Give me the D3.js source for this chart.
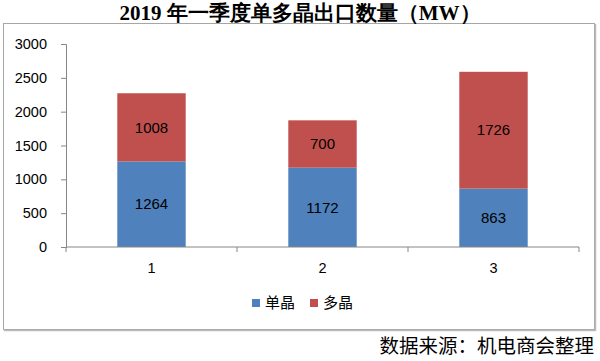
<!DOCTYPE html>
<html><head><meta charset="utf-8">
<script src="https://cdn.jsdelivr.net/npm/d3@7"></script>
<style>body{margin:0;background:#fff}svg{display:block}</style>
</head><body>
<script>
const categories = ["1","2","3"];
const mono = [1264,1172,863];
const multi = [1008,700,1726];
const seriesNames = ["单晶","多晶"];
const colors = ["#4F81BD","#C0504D"];
const yTicks = [0,500,1000,1500,2000,2500,3000];

const W=600,H=361;
const svg=d3.select("body").append("svg").attr("width",W).attr("height",H);
svg.append("rect").attr("width",W).attr("height",H).attr("fill","#fff");
// frame
svg.append("rect").attr("x",3.5).attr("y",23.5).attr("width",591).attr("height",306)
  .attr("fill","#fff").attr("stroke","#a6a6a6").attr("stroke-width",1);
svg.append("line").attr("x1",4).attr("x2",596).attr("y1",330.5).attr("y2",330.5).attr("stroke","#bbb").attr("stroke-width",1.5);
svg.append("line").attr("x1",595.5).attr("x2",595.5).attr("y1",24).attr("y2",331).attr("stroke","#bbb").attr("stroke-width",1.5);

svg.append("text").attr("x",300).attr("y",20).attr("text-anchor","middle")
  .attr("font-family","'Liberation Serif','DejaVu Serif',serif").attr("font-weight","bold").attr("font-size",21)
  .attr("fill","#000").text("2019 年一季度单多晶出口数量（MW）");

const x=d3.scaleBand().domain(categories).range([66,579]).paddingInner(0.6).paddingOuter(0.3);
const y=d3.scaleLinear().domain([0,3000]).range([247,44]);

const data=categories.map((c,i)=>({cat:c,mono:mono[i],multi:multi[i]}));
const stack=d3.stack().keys(["mono","multi"])(data);

const sans="'Liberation Sans','DejaVu Sans',sans-serif";
stack.forEach((s,si)=>{
  svg.append("g").selectAll("rect").data(s).join("rect")
    .attr("x",d=>x(d.data.cat)).attr("width",x.bandwidth())
    .attr("y",d=>y(d[1])).attr("height",d=>y(d[0])-y(d[1]))
    .attr("fill",colors[si]);
  svg.append("g").selectAll("text").data(s).join("text")
    .attr("x",d=>x(d.data.cat)+x.bandwidth()/2).attr("y",d=>(y(d[0])+y(d[1]))/2)
    .attr("dy","0.35em").attr("text-anchor","middle")
    .attr("font-family",sans).attr("font-size",15).attr("fill","#000")
    .text(d=>d[1]-d[0]);
});

// y axis
const ya=svg.append("g").attr("transform","translate(66,0)")
  .call(d3.axisLeft(y).tickValues(yTicks).tickFormat(d3.format("d")).tickSize(5).tickPadding(14));
ya.select(".domain").attr("stroke","#868686");
ya.selectAll(".tick line").attr("stroke","#868686");
ya.selectAll("text").attr("font-family",sans).attr("font-size",14.5).attr("fill","#000");

// x axis
const xg=svg.append("g").attr("transform","translate(0,247)");
xg.append("line").attr("x1",66).attr("x2",579).attr("stroke","#868686");
const bounds=d3.range(categories.length+1).map(i=>66+i*(513/categories.length));
xg.selectAll("line.t").data(bounds).join("line").attr("class","t")
  .attr("x1",d=>d).attr("x2",d=>d).attr("y1",0).attr("y2",5).attr("stroke","#868686");
xg.selectAll("text").data(categories).join("text")
  .attr("x",d=>x(d)+x.bandwidth()/2).attr("y",21).attr("dy","0.35em").attr("text-anchor","middle")
  .attr("font-family",sans).attr("font-size",14.5).attr("fill","#000").text(d=>d);

// legend
const lg=svg.append("g");
const lx=[252,310];
seriesNames.forEach((n,i)=>{
  lg.append("rect").attr("x",lx[i]).attr("y",299).attr("width",8).attr("height",8).attr("fill",colors[i]);
  lg.append("text").attr("x",lx[i]+13).attr("y",303).attr("dy","0.35em")
    .attr("font-family","'Noto Sans CJK SC',sans-serif").attr("font-size",15).attr("fill","#000").text(n);
});

svg.append("text").attr("x",594).attr("y",346).attr("dy","0.35em").attr("text-anchor","end")
  .attr("font-family","'Noto Sans CJK SC',sans-serif").attr("font-size",19.5).attr("fill","#000")
  .text("数据来源：机电商会整理");
</script>
</body></html>
